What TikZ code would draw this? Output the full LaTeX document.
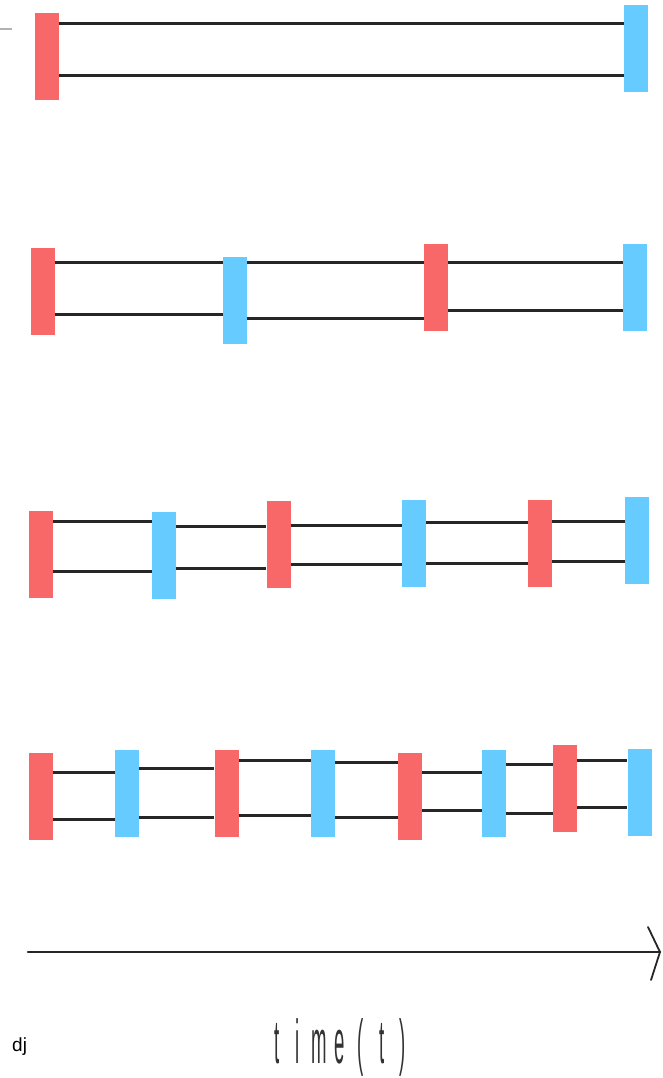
\documentclass[tikz,border=0pt]{standalone}
\usepackage{fontspec}
\setmainfont{Liberation Sans}
\usepackage{graphicx}
\definecolor{barred}{RGB}{249,104,104}
\definecolor{barblue}{RGB}{102,204,255}
\newcommand\tlett[1]{\makebox[21pt]{\scalebox{0.3}[1]{#1}}}
\newcommand\wirepair[4]{%
  \draw[wire] (#1.east |- 0,#3) -- (#2.west |- 0,#3);
  \draw[wire] (#1.east |- 0,#4) -- (#2.west |- 0,#4);}
\begin{document}
\begin{tikzpicture}[x=1pt,y=-1pt,
  bar/.style={rectangle,minimum width=24pt,minimum height=87pt,inner sep=0pt,draw=none},
  rbar/.style={bar,fill=barred},
  bbar/.style={bar,fill=barblue},
  wire/.style={line width=3pt,black!85},
  axis/.style={line width=2.6pt,black!85,line cap=round}]
\useasboundingbox (0,0) rectangle (663,1078);
% faint tick
\coordinate (tk1) at (0,29);
\coordinate (tk2) at (12,29);
\draw[gray!60,line width=1.2pt] (tk1) -- (tk2);
% row 1
\node[rbar] (r11) at (47,56.5) {};
\node[bbar] (b11) at (636,48.5) {};
\wirepair{r11}{b11}{24}{76}
% row 2
\node[rbar] (r21) at (42.5,291.5) {};
\node[bbar] (b21) at (235,300.5) {};
\node[rbar] (r22) at (436,287) {};
\node[bbar] (b22) at (635,287.5) {};
\wirepair{r21}{b21}{262}{314}
\wirepair{b21}{r22}{262}{318}
\wirepair{r22}{b22}{262}{310}
% row 3
\node[rbar] (r31) at (41,554) {};
\node[bbar] (b31) at (164,555.5) {};
\node[rbar] (r32) at (278.5,544) {};
\node[bbar] (b32) at (414,543.5) {};
\node[rbar] (r33) at (540,543.5) {};
\node[bbar] (b33) at (637,540) {};
\wirepair{r31}{b31}{521}{571}
\wirepair{b31}{r32}{526}{568}
\wirepair{r32}{b32}{525}{564}
\wirepair{b32}{r33}{522}{563}
\wirepair{r33}{b33}{521}{561}
% row 4
\node[rbar] (r41) at (41,796) {};
\node[bbar] (b41) at (127,793.5) {};
\node[rbar] (r42) at (226.5,793) {};
\node[bbar] (b42) at (323,793) {};
\node[rbar] (r43) at (410,796) {};
\node[bbar] (b43) at (494,793) {};
\node[rbar] (r44) at (565,788.5) {};
\node[bbar] (b44) at (639.5,792.5) {};
\wirepair{r41}{b41}{772}{819}
\wirepair{b41}{r42}{768}{817}
\wirepair{r42}{b42}{760}{815}
\wirepair{b42}{r43}{762}{817}
\wirepair{r43}{b43}{772}{810}
\wirepair{b43}{r44}{764}{813}
\wirepair{r44}{b44}{760}{807}
% time axis
\coordinate (ax0) at (28,952);
\coordinate (ax1) at (660,952);
\coordinate (bar1) at (648,927);
\coordinate (bar2) at (651,980);
\draw[axis] (ax0) -- (ax1);
\draw[axis,line width=1.8pt] (bar1) -- (ax1) -- (bar2);
% labels
\node[anchor=base west,inner sep=0pt,font=\fontsize{19}{20}\selectfont] (dj) at (12,1051) {dj};
\node[anchor=base,inner sep=0pt,font=\fontsize{62}{62}\selectfont,text=black!80] (tlabel) at (340,1063)
  {\tlett{t}\tlett{i}\tlett{m}\tlett{e}\tlett{(}\tlett{t}\tlett{)}};
\end{tikzpicture}
\end{document}
